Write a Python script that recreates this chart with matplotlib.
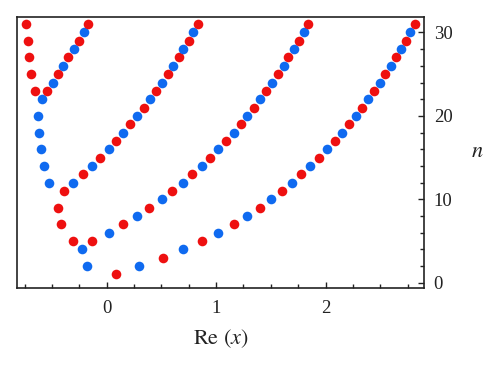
import matplotlib
matplotlib.use("Agg")
import matplotlib.pyplot as plt
from matplotlib.ticker import MultipleLocator

plt.rcParams['font.family'] = ['Liberation Serif', 'DejaVu Serif']
plt.rcParams['mathtext.fontset'] = 'stix'

# Real parts of zeros for each n (odd n red, even n blue)
n_values = list(range(1, 32))
zeros = {
    1: [0.083],
    2: [-0.180, 0.297],
    3: [0.511],
    4: [-0.223, 0.700],
    5: [-0.309, -0.135, 0.869],
    6: [0.018, 1.018],
    7: [-0.416, 0.150, 1.159],
    8: [0.278, 1.281],
    9: [-0.446, 0.391, 1.398],
    10: [0.502, 1.505],
    11: [-0.394, 0.599, 1.600],
    12: [-0.526, -0.309, 0.694, 1.690],
    13: [-0.220, 0.783, 1.780],
    14: [-0.575, -0.138, 0.869, 1.862],
    15: [-0.058, 0.945, 1.939],
    16: [-0.602, 0.018, 1.021, 2.015],
    17: [0.083, 1.092, 2.086],
    18: [-0.618, 0.153, 1.162, 2.153],
    19: [0.217, 1.223, 2.214],
    20: [-0.624, 0.278, 1.284, 2.275],
    21: [0.339, 1.346, 2.336],
    22: [-0.593, 0.400, 1.404, 2.391],
    23: [-0.654, -0.547, 0.450, 1.459, 2.443],
    24: [-0.495, 0.508, 1.514, 2.498],
    25: [-0.691, -0.446, 0.560, 1.563, 2.544],
    26: [-0.398, 0.609, 1.620, 2.596],
    27: [-0.713, -0.352, 0.658, 1.656, 2.642],
    28: [-0.300, 0.700, 1.709, 2.688],
    29: [-0.722, -0.254, 0.749, 1.755, 2.734],
    30: [-0.211, 0.792, 1.801, 2.774],
    31: [-0.737, -0.171, 0.838, 1.841, 2.817],
}
x_ticks = [0, 1, 2]
y_ticks = [0, 10, 20, 30]

red = '#EE1010'
blue = '#0F6AF0'

fig = plt.figure(figsize=(5.0, 3.68), dpi=100)
ax = fig.add_axes([0.034, 0.2174, 0.814, 0.7364])

for n in n_values:
    xs = zeros[n]
    ax.scatter(xs, [n] * len(xs), s=48, color=red if n % 2 == 1 else blue,
               linewidths=0, zorder=3)

ax.set_xlim(-0.82, 2.90)
ax.set_ylim(-0.62, 31.85)

ax.yaxis.tick_right()
ax.yaxis.set_label_position('right')
ax.set_xticks(x_ticks)
ax.set_yticks(y_ticks)
ax.xaxis.set_minor_locator(MultipleLocator(0.25))
ax.yaxis.set_minor_locator(MultipleLocator(2))
ax.tick_params(axis='both', which='both', direction='in', labelsize=13.5,
               colors='#222222', width=1.0)
ax.tick_params(axis='x', which='major', length=4, pad=9)
ax.tick_params(axis='x', which='minor', length=3)
ax.tick_params(axis='y', which='major', length=4, pad=7)
ax.tick_params(axis='y', which='minor', length=3)
for s in ax.spines.values():
    s.set_linewidth(1.2)
    s.set_color('#222222')

ax.set_xlabel(r'$\mathrm{Re}\ (x)$', fontsize=16, labelpad=7, color='#222222')
ax.set_ylabel(r'$n$', fontsize=16, rotation=0, labelpad=18, va='center',
              color='#222222')

fig.savefig('out.png', dpi=100)
